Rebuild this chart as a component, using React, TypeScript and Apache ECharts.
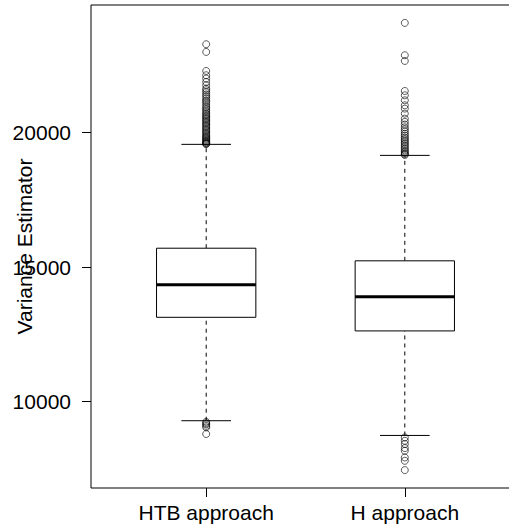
import React, { useEffect, useRef } from "react";
import * as echarts from "echarts";

const categories = ["HTB approach", "H approach"];
const lowerWhisker = [9293, 8746];
const q1 = [13137, 12631];
const median = [14343, 13897];
const q3 = [15705, 15236];
const upperWhisker = [19565, 19155];

const htbOutliers = [
  23286, 23000, 22293, 22133, 22010, 21883, 21760, 21637, 21574, 21500, 21420,
  21350, 21280, 21200, 21150, 21080, 21000, 20940, 20880, 20820, 20760, 20700,
  20650, 20600, 20550, 20500, 20450, 20400, 20350, 20300, 20250, 20200, 20150,
  20100, 20050, 20000, 19950, 19900, 19860, 19820, 19780, 19740, 19700, 19670,
  19640, 19610, 19590, 19575,
  9250, 9200, 9160, 9100, 9046, 8800,
];
const hOutliers = [
  24079, 22877, 22665, 21548, 21388, 21202, 21016, 20893, 20707, 20521, 20400,
  20300, 20200, 20120, 20040, 19960, 19890, 19820, 19760, 19700, 19640, 19580,
  19520, 19460, 19400, 19340, 19290, 19240, 19200, 19170,
  8672, 8548, 8426, 8277, 8176, 7927, 7804, 7458,
];

const yTicks = [10000, 15000, 20000];
const yMin = 6793;
const yMax = 24744;

export default function App() {
  const ref = useRef<HTMLDivElement>(null);
  useEffect(() => {
    document.body.style.margin = "0";
    document.body.style.overflow = "hidden";
    const chart = echarts.init(ref.current!, null, { renderer: "svg" });
    const boxData = categories.map((_, i) => [
      i + 1,
      lowerWhisker[i],
      q1[i],
      median[i],
      q3[i],
      upperWhisker[i],
    ]);
    const outlierData: number[][] = [];
    htbOutliers.forEach((v) => outlierData.push([1, v]));
    hOutliers.forEach((v) => outlierData.push([2, v]));
    const font = "Liberation Sans, Arial, Helvetica, sans-serif";
    chart.setOption({
      animation: false,
      backgroundColor: "#fff",
      grid: {
        left: 91,
        top: 5,
        right: -11,
        bottom: 40,
        containLabel: false,
        outerBoundsMode: "none",
        show: true,
        borderColor: "#000",
        borderWidth: 1,
        backgroundColor: "transparent",
      },
      xAxis: {
        type: "value",
        min: 0.42,
        max: 2.58,
        axisLine: { show: false },
        splitLine: { show: false },
        axisTick: {
          show: true,
          customValues: [1, 2],
          length: 9,
          lineStyle: { color: "#000" },
        },
        axisLabel: {
          customValues: [1, 2],
          formatter: (v: number) => categories[Math.round(v) - 1],
          margin: 14,
          fontSize: 21,
          color: "#000",
          fontFamily: font,
        },
      },
      yAxis: {
        type: "value",
        min: yMin,
        max: yMax,
        name: "Variance Estimator",
        nameLocation: "middle",
        nameGap: 56,
        nameMoveOverlap: false,
        nameTextStyle: { fontSize: 21, color: "#000", fontFamily: font },
        axisLine: { show: false },
        splitLine: { show: false },
        axisTick: {
          show: true,
          customValues: yTicks,
          length: 9,
          lineStyle: { color: "#000" },
        },
        axisLabel: {
          customValues: yTicks,
          formatter: (v: number) => String(Math.round(v)),
          margin: 20,
          fontSize: 21,
          color: "#000",
          fontFamily: font,
        },
      },
      series: [
        {
          type: "custom",
          data: boxData,
          z: 2,
          renderItem: (params: any, api: any) => {
            const x = api.value(0);
            const pLo = api.coord([x, api.value(1)]);
            const pQ1 = api.coord([x, api.value(2)]);
            const pMed = api.coord([x, api.value(3)]);
            const pQ3 = api.coord([x, api.value(4)]);
            const pHi = api.coord([x, api.value(5)]);
            const halfBox = api.size([0.5, 0])[0] / 2;
            const halfCap = halfBox / 2;
            const cx = pMed[0];
            const dash = { stroke: "#000", lineWidth: 1, lineDash: [4, 4] };
            const solid = { stroke: "#000", lineWidth: 1 };
            return {
              type: "group",
              children: [
                {
                  type: "line",
                  shape: { x1: cx, y1: pQ3[1], x2: cx, y2: pHi[1] },
                  style: dash,
                },
                {
                  type: "line",
                  shape: { x1: cx, y1: pLo[1], x2: cx, y2: pQ1[1] },
                  style: dash,
                },
                {
                  type: "line",
                  shape: { x1: cx - halfCap, y1: pHi[1], x2: cx + halfCap, y2: pHi[1] },
                  style: solid,
                },
                {
                  type: "line",
                  shape: { x1: cx - halfCap, y1: pLo[1], x2: cx + halfCap, y2: pLo[1] },
                  style: solid,
                },
                {
                  type: "rect",
                  shape: {
                    x: cx - halfBox,
                    y: pQ3[1],
                    width: halfBox * 2,
                    height: pQ1[1] - pQ3[1],
                  },
                  style: { fill: "#fff", stroke: "#000", lineWidth: 1 },
                },
                {
                  type: "line",
                  shape: { x1: cx - halfBox, y1: pMed[1], x2: cx + halfBox, y2: pMed[1] },
                  style: { stroke: "#000", lineWidth: 3 },
                },
              ],
            };
          },
        },
        {
          type: "scatter",
          data: outlierData,
          z: 3,
          symbol: "circle",
          symbolSize: 7,
          itemStyle: {
            color: "rgba(0,0,0,0)",
            borderColor: "#000",
            borderWidth: 0.8,
          },
        },
      ],
    });
    return () => chart.dispose();
  }, []);
  return <div ref={ref} style={{ width: 509, height: 528 }} />;
}
